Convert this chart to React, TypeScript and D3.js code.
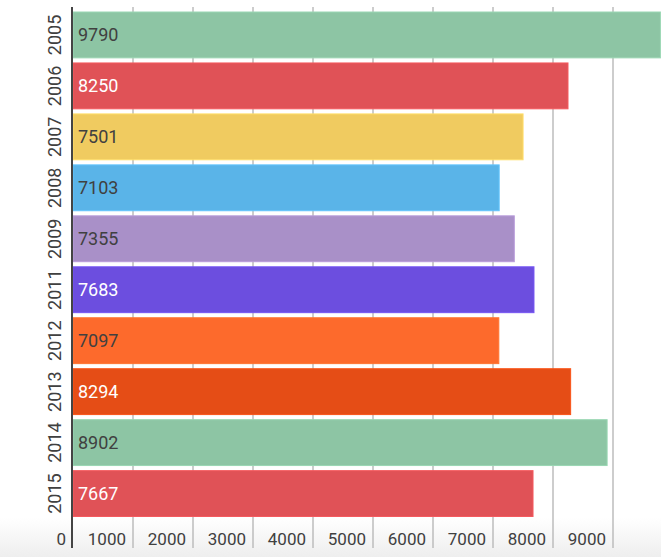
import React, { useEffect, useRef } from 'react';
import * as d3 from 'd3';

const years = ['2005', '2006', '2007', '2008', '2009', '2011', '2012', '2013', '2014', '2015'];
const values = [9790, 8250, 7501, 7103, 7355, 7683, 7097, 8294, 8902, 7667];
const palette = ['#8dc5a4', '#e05257', '#f0cb60', '#5ab4e8', '#a990c8', '#6c4edf', '#fd6a2c', '#e54d16'];
const xTicks = [0, 1000, 2000, 3000, 4000, 5000, 6000, 7000, 8000, 9000];

const luminance = (c: string) => {
  const rgb = d3.rgb(c);
  const lin = (v: number) => {
    const s = v / 255;
    return s <= 0.03928 ? s / 12.92 : Math.pow((s + 0.055) / 1.055, 2.4);
  };
  return 0.2126 * lin(rgb.r) + 0.7152 * lin(rgb.g) + 0.0722 * lin(rgb.b);
};

export default function App() {
  const svgRef = useRef<SVGSVGElement>(null);
  const width = 661;
  const height = 557;

  useEffect(() => {
    if (!svgRef.current) return;
    const svg = d3.select(svgRef.current);
    svg.selectAll('*').remove();

    const font = "Roboto, 'Noto Sans', sans-serif";
    const x = d3.scaleLinear().domain([0, 10000]).range([73, 673]);
    const y = d3.scaleBand<string>().domain(years).range([12, 516.5]).paddingInner(0.1).paddingOuter(0);
    const color = d3.scaleOrdinal<string, string>().domain(years).range(palette);

    // bottom fade
    const defs = svg.append('defs');
    const grad = defs.append('linearGradient').attr('id', 'fade').attr('x1', 0).attr('y1', 0).attr('x2', 0).attr('y2', 1);
    grad.append('stop').attr('offset', '0%').attr('stop-color', '#ffffff');
    grad.append('stop').attr('offset', '100%').attr('stop-color', '#eeeeee');
    svg.append('rect').attr('width', width).attr('height', height).attr('fill', '#fff');
    svg.append('rect').attr('x', 0).attr('y', 518).attr('width', width).attr('height', height - 518).attr('fill', 'url(#fade)');

    // grid lines
    svg.append('g').selectAll('line')
      .data(xTicks.filter(d => d > 0)).enter().append('line')
      .attr('x1', d => x(d)).attr('x2', d => x(d))
      .attr('y1', 7).attr('y2', 548)
      .attr('stroke', '#bdbdbd').attr('stroke-width', 1.5);

    // bars
    svg.append('g').selectAll('rect')
      .data(values).enter().append('rect')
      .attr('x', x(0))
      .attr('y', (d, i) => y(years[i])!)
      .attr('width', d => x(d) - x(0))
      .attr('height', y.bandwidth())
      .attr('fill', (d, i) => color(years[i]))
      .attr('stroke', (d, i) => d3.color(color(years[i]))!.brighter(0.25).toString())
      .attr('stroke-width', 1);

    // value labels
    svg.append('g').selectAll('text')
      .data(values).enter().append('text')
      .attr('x', x(0) + 5)
      .attr('y', (d, i) => y(years[i])! + y.bandwidth() / 2)
      .attr('dy', '0.36em')
      .attr('font-family', font).attr('font-size', 18)
      .attr('fill', (d, i) => luminance(color(years[i])) > 0.27 ? '#404040' : '#ffffff')
      .text(d => String(d));

    // year labels
    svg.append('g').selectAll('text')
      .data(years).enter().append('text')
      .attr('transform', d => `translate(55,${y(d)! + y.bandwidth() / 2}) rotate(-90)`)
      .attr('text-anchor', 'middle').attr('dy', '0.36em')
      .attr('font-family', font).attr('font-size', 18).attr('fill', '#404040')
      .text(d => d);

    // x tick labels
    svg.append('g').selectAll('text')
      .data(xTicks).enter().append('text')
      .attr('x', d => x(d) - 7).attr('y', 545)
      .attr('text-anchor', 'end')
      .attr('font-family', font).attr('font-size', 17).attr('fill', '#404040')
      .text(d => String(d));

    // axis line
    svg.append('line')
      .attr('x1', x(0) - 1).attr('x2', x(0) - 1).attr('y1', 7).attr('y2', 548)
      .attr('stroke', '#444444').attr('stroke-width', 2);
  }, []);

  return (
    <svg
      ref={svgRef}
      width={width}
      height={height}
      style={{ position: 'absolute', left: 0, top: 0, display: 'block' }}
    />
  );
}
